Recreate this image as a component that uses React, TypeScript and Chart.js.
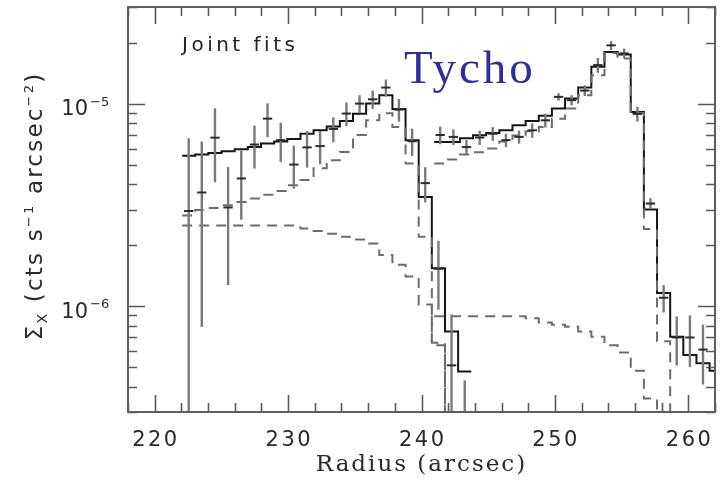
import React, { useEffect, useRef } from 'react';
import { Chart, registerables } from 'chart.js';

Chart.register(...registerables);

// Surface brightness values are stored in units of 1e-6 cts s^-1 arcsec^-2
const UNIT = 1e-6;

// Axis ranges and tick layout
const X_MIN = 218;
const X_MAX = 262;
const Y_MIN = 3e-7;
const Y_MAX = 3e-5;
const X_MAJOR = [220, 230, 240, 250, 260];
const X_MINOR = [218, 222, 224, 226, 228, 232, 234, 236, 238, 242, 244, 246, 248, 252, 254, 256, 258, 262];
const Y_MAJOR = [1e-6, 1e-5];
const Y_MAJOR_EXP = ['−6', '−5'];
const Y_MINOR = [3e-7, 4e-7, 5e-7, 6e-7, 7e-7, 8e-7, 9e-7, 2e-6, 3e-6, 4e-6, 5e-6, 6e-6, 7e-6, 8e-6, 9e-6, 2e-5, 3e-5];

// First profile (rim at ~238")
const radiusA = [222.55, 223.53, 224.52, 225.5, 226.49, 227.48, 228.46, 229.45, 230.43, 231.42, 232.4, 233.39, 234.37, 235.36, 236.34, 237.33, 238.31, 239.3, 240.28, 241.27, 242.25, 243.24];
const countsA = [2.95, 3.64, 6.79, 3.07, 4.27, 6.28, 8.43, 6.6, 5.0, 6.08, 6.17, 7.5, 8.93, 10.0, 10.5, 12.0, 9.34, 6.52, 4.05, 1.53, 0.51, 0.12];
const errorsA = [3.8, 2.85, 2.7, 1.8, 1.6, 1.5, 1.6, 1.45, 1.2, 1.25, 1.15, 1.05, 1.2, 1.0, 1.1, 1.15, 1.2, 1.0, 0.8, 0.57, 0.4, 0.31];
const totalA = [5.52, 5.6, 5.7, 5.82, 5.95, 6.1, 6.35, 6.5, 6.68, 7.1, 7.38, 7.7, 8.2, 8.9, 10.0, 11.0, 9.4, 6.6, 3.46, 1.54, 0.75, 0.475];
const shellA = [2.8, 2.98, 3.05, 3.15, 3.27, 3.4, 3.55, 3.7, 3.95, 4.2, 4.8, 5.25, 5.77, 7.0, 8.27, 8.96, 7.67, 5.06, 2.2, 0.66, 0.05, 0.05];
const innerA = [2.5, 2.5, 2.5, 2.5, 2.5, 2.5, 2.5, 2.5, 2.5, 2.42, 2.35, 2.28, 2.2, 2.13, 2.04, 1.79, 1.6, 1.4, 1.02, 0.64, 0.05, 0.05];
const EDGES_A = [222.06, 243.73];

// Second profile (rim at ~256")
const radiusB = [241.4, 242.39, 243.37, 244.36, 245.34, 246.33, 247.31, 248.3, 249.28, 250.27, 251.25, 252.24, 253.22, 254.21, 255.19, 256.18, 257.16, 258.15, 259.13, 260.12, 261.1, 262.09];
const countsB = [7.0, 6.85, 6.1, 6.8, 7.1, 6.6, 6.85, 7.38, 8.27, 10.8, 10.4, 11.6, 15.5, 19.4, 17.7, 8.9, 3.21, 1.1, 0.7, 0.7, 0.61];
const errorsB = [0.7, 0.6, 0.5, 0.55, 0.55, 0.5, 0.5, 0.6, 0.65, 0.45, 0.6, 0.7, 1.3, 1.0, 1.0, 0.75, 0.2, 0.17, 0.19, 0.2, 0.2];
const totalB = [6.47, 6.47, 6.75, 6.98, 7.16, 7.38, 7.82, 8.2, 8.7, 9.45, 10.6, 12.0, 15.2, 18.0, 17.5, 9.1, 3.0, 1.16, 0.706, 0.574, 0.522, 0.48];
const shellB = [5.06, 5.3, 5.6, 5.75, 6.0, 6.5, 6.95, 7.3, 7.67, 8.43, 9.45, 11.0, 13.8, 17.8, 16.7, 9.0, 2.4, 0.67, 0.05, 0.05, 0.05, 0.05];
const innerB = [0.89, 0.89, 0.89, 0.89, 0.89, 0.89, 0.89, 0.87, 0.83, 0.81, 0.79, 0.75, 0.706, 0.64, 0.59, 0.48, 0.35, 0.05, 0.05, 0.05, 0.05, 0.05];
const EDGES_B = [240.95, 262.6];

const BIN_HALF = 0.35;

// Histogram-style points: flat from the first edge to the last edge
function histogram(centers: number[], values: number[], edges: number[]) {
  const pts = [{ x: edges[0], y: values[0] * UNIT }];
  centers.forEach((c, i) => pts.push({ x: c, y: values[i] * UNIT }));
  pts.push({ x: edges[1], y: values[values.length - 1] * UNIT });
  return pts;
}

const SOLID = '#151515';
const DASHED = '#6c6c6c';

function dashed(data: any) {
  return {
    data,
    stepped: 'middle' as const,
    borderColor: DASHED,
    borderWidth: 2,
    borderDash: [10, 7],
    pointRadius: 0,
    fill: false,
  };
}

function solid(data: any) {
  return {
    data,
    stepped: 'middle' as const,
    borderColor: SOLID,
    borderWidth: 2,
    pointRadius: 0,
    fill: false,
  };
}

type Run = { t: string; size: number; dy?: number };

function drawRuns(ctx: CanvasRenderingContext2D, runs: Run[], x: number, y: number, spacing: number, family: string) {
  ctx.letterSpacing = `${spacing}px`;
  let w = 0;
  const widths = runs.map((r) => {
    ctx.font = `${r.size}px ${family}`;
    const m = ctx.measureText(r.t).width;
    w += m;
    return m;
  });
  let cx = x - w / 2;
  ctx.textAlign = 'left';
  runs.forEach((r, i) => {
    ctx.font = `${r.size}px ${family}`;
    ctx.fillText(r.t, cx, y + (r.dy || 0));
    cx += widths[i];
  });
  ctx.letterSpacing = '0px';
}

const decorations = {
  id: 'decorations',
  afterDatasetsDraw(chart: any) {
    const { ctx, chartArea: a, scales } = chart;
    const xs = scales.x;
    const ys = scales.y;

    // data points with error bars
    ctx.save();
    ctx.beginPath();
    ctx.rect(a.left, a.top, a.right - a.left, a.bottom - a.top);
    ctx.clip();
    const bars = (centers: number[], counts: number[], errors: number[]) => {
      counts.forEach((v, i) => {
        const px = xs.getPixelForValue(centers[i]);
        const hi = ys.getPixelForValue((v + errors[i]) * UNIT);
        const lo = v - errors[i] > 0 ? ys.getPixelForValue((v - errors[i]) * UNIT) : a.bottom + 10;
        ctx.strokeStyle = '#7a7a7a';
        ctx.lineWidth = 2.4;
        ctx.beginPath();
        ctx.moveTo(px, hi);
        ctx.lineTo(px, lo);
        ctx.stroke();
        const py = ys.getPixelForValue(v * UNIT);
        ctx.strokeStyle = '#2c2c2c';
        ctx.lineWidth = 2;
        ctx.beginPath();
        ctx.moveTo(xs.getPixelForValue(centers[i] - BIN_HALF), py);
        ctx.lineTo(xs.getPixelForValue(centers[i] + BIN_HALF), py);
        ctx.stroke();
      });
    };
    bars(radiusA, countsA, errorsA);
    bars(radiusB, countsB, errorsB);
    ctx.restore();

    // frame and inward ticks on all four sides
    ctx.save();
    ctx.strokeStyle = '#5a5a5a';
    ctx.lineWidth = 1.6;
    const tickX = (vals: number[], len: number) => {
      vals.forEach((v) => {
        const px = Math.round(xs.getPixelForValue(v)) + 0.5;
        ctx.beginPath();
        ctx.moveTo(px, a.bottom);
        ctx.lineTo(px, a.bottom - len);
        ctx.moveTo(px, a.top);
        ctx.lineTo(px, a.top + len);
        ctx.stroke();
      });
    };
    const tickY = (vals: number[], len: number) => {
      vals.forEach((v) => {
        const py = Math.round(ys.getPixelForValue(v)) + 0.5;
        ctx.beginPath();
        ctx.moveTo(a.left, py);
        ctx.lineTo(a.left + len, py);
        ctx.moveTo(a.right, py);
        ctx.lineTo(a.right - len, py);
        ctx.stroke();
      });
    };
    tickX(X_MAJOR, 17);
    tickX(X_MINOR, 9);
    tickY(Y_MAJOR, 17);
    tickY(Y_MINOR, 9);
    ctx.lineWidth = 2;
    ctx.strokeStyle = '#5e5e5e';
    ctx.strokeRect(a.left, a.top, a.right - a.left, a.bottom - a.top);
    ctx.restore();

    // tick labels
    ctx.save();
    ctx.fillStyle = '#2a2a2a';
    ctx.textBaseline = 'alphabetic';
    ctx.font = '21px "DejaVu Sans"';
    ctx.letterSpacing = '2.5px';
    ctx.textAlign = 'center';
    X_MAJOR.forEach((v) => {
      ctx.fillText(String(v), xs.getPixelForValue(v) + 1.25, 446);
    });
    ctx.letterSpacing = '0px';
    Y_MAJOR.forEach((v, i) => {
      const py = ys.getPixelForValue(v);
      ctx.font = '21px "DejaVu Sans"';
      ctx.textAlign = 'right';
      ctx.fillText('10', 88, py + 11.5);
      ctx.font = '13px "DejaVu Sans"';
      ctx.textAlign = 'left';
      ctx.fillText(Y_MAJOR_EXP[i], 90, py + 2);
    });

    // axis titles
    ctx.letterSpacing = '2px';
    ctx.font = '23px "DejaVu Serif"';
    ctx.textAlign = 'center';
    ctx.fillText('Radius (arcsec)', (a.left + a.right) / 2, 471);
    ctx.letterSpacing = '0px';

    ctx.save();
    ctx.translate(42, 206);
    ctx.rotate(-Math.PI / 2);
    drawRuns(
      ctx,
      [
        { t: 'Σ', size: 23 },
        { t: 'X', size: 14, dy: 5 },
        { t: ' (cts s', size: 23 },
        { t: '−1', size: 13, dy: -9 },
        { t: ' arcsec', size: 23 },
        { t: '−2', size: 13, dy: -9 },
        { t: ')', size: 23 },
      ],
      0,
      0,
      2.2,
      '"DejaVu Sans"'
    );
    ctx.restore();

    // annotations
    ctx.font = '20px "DejaVu Sans"';
    ctx.letterSpacing = '3.5px';
    ctx.textAlign = 'left';
    ctx.fillStyle = '#222';
    ctx.fillText('Joint fits', 182, 51);
    ctx.letterSpacing = '3px';
    ctx.font = '47px "Liberation Serif"';
    ctx.fillStyle = '#2e3192';
    ctx.fillText('Tycho', 404, 83);
    ctx.letterSpacing = '0px';
    ctx.restore();
  },
};

export default function App() {
  const ref = useRef<HTMLCanvasElement>(null);

  useEffect(() => {
    if (!ref.current) return;
    const chart = new Chart(ref.current, {
      type: 'line',
      data: {
        datasets: [
          dashed(histogram(radiusA, innerA, EDGES_A)),
          dashed(histogram(radiusA, shellA, EDGES_A)),
          dashed(histogram(radiusB, innerB, EDGES_B)),
          dashed(histogram(radiusB, shellB, EDGES_B)),
          solid(histogram(radiusA, totalA, EDGES_A)),
          solid(histogram(radiusB, totalB, EDGES_B)),
        ] as any,
      },
      options: {
        animation: false,
        responsive: false,
        maintainAspectRatio: false,
        devicePixelRatio: 1,
        layout: { padding: { left: 128, right: 8, top: 7, bottom: 74 } },
        scales: {
          x: { type: 'linear', min: X_MIN, max: X_MAX, display: false },
          y: { type: 'logarithmic', min: Y_MIN, max: Y_MAX, display: false },
        },
        plugins: {
          legend: { display: false },
          tooltip: { enabled: false },
        },
      },
      plugins: [decorations],
    });
    return () => chart.destroy();
  }, []);

  return (
    <div style={{ position: 'fixed', left: 0, top: 0, width: 723, height: 486, background: '#fff' }}>
      <canvas ref={ref} width={723} height={486} style={{ display: 'block', width: 723, height: 486 }} />
    </div>
  );
}
